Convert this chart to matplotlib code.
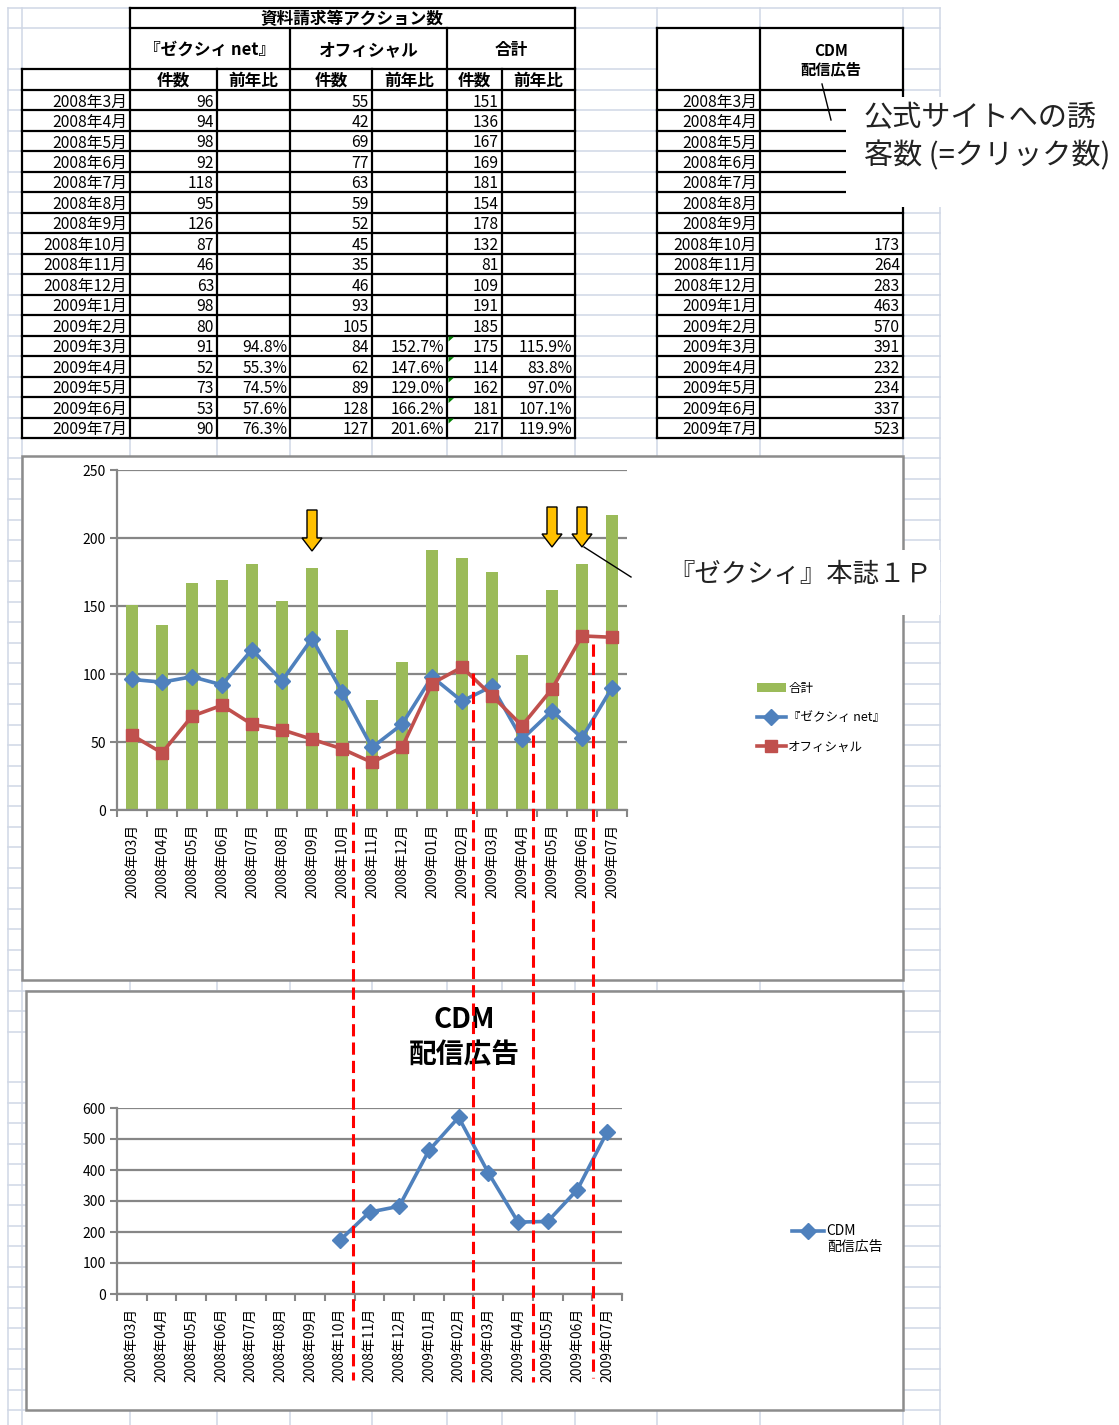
import numpy as np
import matplotlib
matplotlib.use('Agg')
import matplotlib.pyplot as plt
from matplotlib.patches import Rectangle, Polygon
from matplotlib.legend_handler import HandlerLine2D

plt.rcParams['font.family'] = ['Noto Sans CJK JP', 'DejaVu Sans']

# ---------------- data ----------------
table_months = ['2008年3月', '2008年4月', '2008年5月', '2008年6月', '2008年7月', '2008年8月',
                '2008年9月', '2008年10月', '2008年11月', '2008年12月', '2009年1月', '2009年2月',
                '2009年3月', '2009年4月', '2009年5月', '2009年6月', '2009年7月']
chart_months = ['2008年03月', '2008年04月', '2008年05月', '2008年06月', '2008年07月', '2008年08月',
                '2008年09月', '2008年10月', '2008年11月', '2008年12月', '2009年01月', '2009年02月',
                '2009年03月', '2009年04月', '2009年05月', '2009年06月', '2009年07月']
zexy = [96, 94, 98, 92, 118, 95, 126, 87, 46, 63, 98, 80, 91, 52, 73, 53, 90]
official = [55, 42, 69, 77, 63, 59, 52, 45, 35, 46, 93, 105, 84, 62, 89, 128, 127]
total = [151, 136, 167, 169, 181, 154, 178, 132, 81, 109, 191, 185, 175, 114, 162, 181, 217]
zexy_yoy = [''] * 12 + ['94.8%', '55.3%', '74.5%', '57.6%', '76.3%']
official_yoy = [''] * 12 + ['152.7%', '147.6%', '129.0%', '166.2%', '201.6%']
total_yoy = [''] * 12 + ['115.9%', '83.8%', '97.0%', '107.1%', '119.9%']
cdm = [None] * 7 + [173, 264, 283, 463, 570, 391, 232, 234, 337, 523]

table_title = '資料請求等アクション数'
group_labels = ['『ゼクシィ net』', 'オフィシャル', '合計']
sub_labels = ['件数', '前年比']
cdm_header = 'CDM\n配信広告'
arrow_cats = [6, 14, 15]
dash_cats = [7.35, 11.35, 13.35, 15.35]
callout1 = '公式サイトへの誘\n客数 (=クリック数)'
callout2 = '『ゼクシィ』本誌１Ｐ'

# ---------------- figure ----------------
W, H = 1119, 1425
fig = plt.figure(figsize=(W / 100, H / 100), dpi=100)

bg = fig.add_axes([0, 0, 1, 1], zorder=0)
bg.set_xlim(0, W); bg.set_ylim(H, 0); bg.axis('off')
ov = fig.add_axes([0, 0, 1, 1], zorder=5)
ov.set_xlim(0, W); ov.set_ylim(H, 0); ov.axis('off'); ov.patch.set_alpha(0)

GRID = '#D0D7E5'
cols = [8, 22, 130, 217, 290, 372, 447, 502, 575, 657, 760, 903, 940]
rows = [8, 28, 69]
y = 90.0
while y <= 1032:
    rows.append(y); y += 20.47
y = 1082.0
while y <= H:
    rows.append(y); y += 20.5
for x in cols:
    bg.plot([x, x], [8, H], color=GRID, lw=1.1, zorder=1)
for yy in rows:
    bg.plot([8, 940], [yy, yy], color=GRID, lw=1.1, zorder=1)

# merged header cells (white)
for (x0, x1, y0, y1) in [(130, 575, 8, 28), (130, 575, 28, 69), (657, 903, 28, 90)]:
    bg.add_patch(Rectangle((x0, y0), x1 - x0, y1 - y0, fc='white', ec='none', zorder=2))

# ---------------- tables ----------------
BL = dict(color='black', lw=1.6, zorder=4, solid_capstyle='projecting')
RH = 20.47
row_top = [90 + RH * i for i in range(len(table_months) + 1)]
bottom = row_top[-1]
bg.plot([130, 575], [8, 8], **BL)
bg.plot([130, 575], [28, 28], **BL)
bg.plot([22, 575], [69, 69], **BL)
for yy in row_top:
    bg.plot([22, 575], [yy, yy], **BL)
    bg.plot([657, 903], [yy, yy], **BL)
for x in [130, 575]:
    bg.plot([x, x], [8, bottom], **BL)
for x in [290, 447]:
    bg.plot([x, x], [28, bottom], **BL)
for x in [22, 217, 372, 502]:
    bg.plot([x, x], [69, bottom], **BL)
bg.plot([657, 903], [28, 28], **BL)
for x in [657, 760, 903]:
    bg.plot([x, x], [28, bottom], **BL)

TF = 11.3
bg.text(352, 19.5, table_title, ha='center', va='center', fontsize=12, fontweight='bold', zorder=5)
for lab, (x0, x1) in zip(group_labels, [(130, 290), (290, 447), (447, 575)]):
    bg.text((x0 + x1) / 2, 50, lab, ha='center', va='center', fontsize=12, fontweight='bold', zorder=5)
for (x0, x1, lab) in [(130, 217, 0), (217, 290, 1), (290, 372, 0), (372, 447, 1), (447, 502, 0), (502, 575, 1)]:
    bg.text((x0 + x1) / 2, 81, sub_labels[lab], ha='center', va='center', fontsize=12,
            fontweight='bold', zorder=5)
bg.text(831, 60, cdm_header, ha='center', va='center', fontsize=11, fontweight='bold',
        linespacing=1.15, zorder=5)

for i, m in enumerate(table_months):
    yc = row_top[i] + RH / 2 + 1.8
    bg.text(127, yc, m, ha='right', va='center', fontsize=TF, zorder=5)
    bg.text(757, yc, m, ha='right', va='center', fontsize=TF, zorder=5)
    vals = [(214, str(zexy[i])), (287, zexy_yoy[i]), (369, str(official[i])), (444, official_yoy[i]),
            (499, str(total[i])), (572, total_yoy[i])]
    for xr, s in vals:
        if s:
            bg.text(xr, yc, s, ha='right', va='center', fontsize=TF, zorder=5)
    if cdm[i] is not None:
        bg.text(900, yc, str(cdm[i]), ha='right', va='center', fontsize=TF, zorder=5)
    if total_yoy[i]:
        bg.add_patch(Polygon([(448.5, row_top[i] + 1), (454, row_top[i] + 1), (448.5, row_top[i] + 6)],
                             closed=True, fc='#008000', ec='none', zorder=6))

# ---------------- chart frames ----------------
FRAME = '#8C8C8C'
bg.add_patch(Rectangle((22, 456), 881, 524, fc='white', ec=FRAME, lw=1.8, zorder=7))
bg.add_patch(Rectangle((26, 991), 877, 419, fc='white', ec=FRAME, lw=1.8, zorder=7))

AX = '#868686'
x = np.arange(len(chart_months))


def style_axis(ax, ymax, step):
    ax.set_xlim(-0.5, len(chart_months) - 0.5)
    ax.set_ylim(0, ymax)
    ax.set_yticks(np.arange(0, ymax + 1, step))
    ax.set_xticks(x)
    ax.set_xticklabels(chart_months, rotation=90, fontsize=10)
    ax.set_xticks(np.arange(-0.5, len(chart_months)), minor=True)
    ax.tick_params(axis='x', which='major', length=0, pad=10)
    ax.tick_params(axis='x', which='minor', length=5, width=1.5, color=AX, direction='out')
    ax.tick_params(axis='y', length=5, width=1.5, color=AX, labelsize=10, pad=3)
    ax.yaxis.grid(True, color=AX, lw=1.6)
    ax.set_axisbelow(True)
    for s in ['top', 'right']:
        ax.spines[s].set_visible(False)
    for s in ['left', 'bottom']:
        ax.spines[s].set_color(AX); ax.spines[s].set_linewidth(1.6)
    ax.patch.set_alpha(0)


class TopLineHandler(HandlerLine2D):
    """Place the legend line next to the first text line of a two-line label."""
    def __init__(self, shift, **kw):
        super().__init__(**kw)
        self.shift = shift

    def create_artists(self, legend, orig_handle, xdescent, ydescent, width, height, fontsize, trans):
        arts = super().create_artists(legend, orig_handle, xdescent, ydescent, width, height,
                                      fontsize, trans)
        for a in arts:
            a.set_ydata(np.asarray(a.get_ydata(), dtype=float) + self.shift)
        return arts


# chart 1
ax1 = fig.add_axes([117 / W, 1 - 810 / H, 510 / W, 340 / H], zorder=2)
bars = ax1.bar(x, total, width=0.4, color='#9BBB59', label='合計', zorder=2)
l1, = ax1.plot(x, zexy, color='#4F81BD', lw=2.6, marker='D', ms=8, label='『ゼクシィ net』', zorder=3)
l2, = ax1.plot(x, official, color='#C0504D', lw=2.6, marker='s', ms=8, label='オフィシャル', zorder=3)
style_axis(ax1, 250, 50)
ax1.legend(handles=[bars, l1, l2], loc='upper left', bbox_to_anchor=(757 / W, 1 - 682 / H),
           bbox_transform=fig.transFigure, frameon=False, fontsize=9, handlelength=2.3,
           labelspacing=1.3, handletextpad=0.2, borderaxespad=0, borderpad=0)

# chart 2
ax2 = fig.add_axes([117 / W, 1 - 1294 / H, 505 / W, 186 / H], zorder=2)
cdm_vals = np.array([np.nan if v is None else v for v in cdm], dtype=float)
l3, = ax2.plot(x, cdm_vals, color='#4F81BD', lw=2.6, marker='D', ms=8, label='CDM\n配信広告')
style_axis(ax2, 600, 100)
ax2.legend(handles=[l3], handler_map={l3: TopLineHandler(shift=6.5)}, loc='upper left',
           bbox_to_anchor=(792 / W, 1 - 1224 / H), bbox_transform=fig.transFigure,
           frameon=False, fontsize=10, handlelength=2.3, handletextpad=0.2,
           borderaxespad=0, borderpad=0)
bg.text(464, 1038, 'CDM\n配信広告', ha='center', va='center', fontsize=20, fontweight='bold',
        linespacing=1.35, zorder=8)


def cat_px(ax, c):
    d = ax.transData.transform((c, 0))
    return ov.transData.inverted().transform(d)[0]


# ---------------- overlay annotations ----------------
for c, (yt, yb) in zip(dash_cats, [(767, 1380), (673, 1383), (735, 1382), (644, 1378)]):
    px = cat_px(ax1, c)
    ov.plot([px, px], [yt, yb], color='#FF0000', lw=2.2, ls=(0, (4, 2)), zorder=6)

for c, (yt, yp) in zip(arrow_cats, [(510, 551), (507, 547), (507, 547)]):
    cx = cat_px(ax1, c)
    hy = yp - 13
    pts = [(cx - 5, yt), (cx + 5, yt), (cx + 5, hy), (cx + 10, hy), (cx, yp), (cx - 10, hy), (cx - 5, hy)]
    ov.add_patch(Polygon(pts, closed=True, fc='#FFC000', ec='black', lw=1.0, zorder=7))

cx3 = cat_px(ax1, arrow_cats[-1])
ov.plot([cx3 + 2, 631], [547, 577], color='black', lw=1.0, zorder=7)
ov.add_patch(Rectangle((640, 550), 300, 65, fc='white', ec='none', zorder=6))
ov.text(668, 574, callout2, ha='left', va='center', fontsize=19, color='#222222', zorder=8)

ov.add_patch(Rectangle((846, 97), 273, 110, fc='white', ec='none', zorder=6))
ov.plot([822, 831], [84, 120], color='black', lw=1.0, zorder=7)
ov.text(864, 137, callout1, ha='left', va='center', fontsize=21, color='#222222',
        linespacing=1.35, zorder=8)

fig.savefig('out.png', dpi=100)
